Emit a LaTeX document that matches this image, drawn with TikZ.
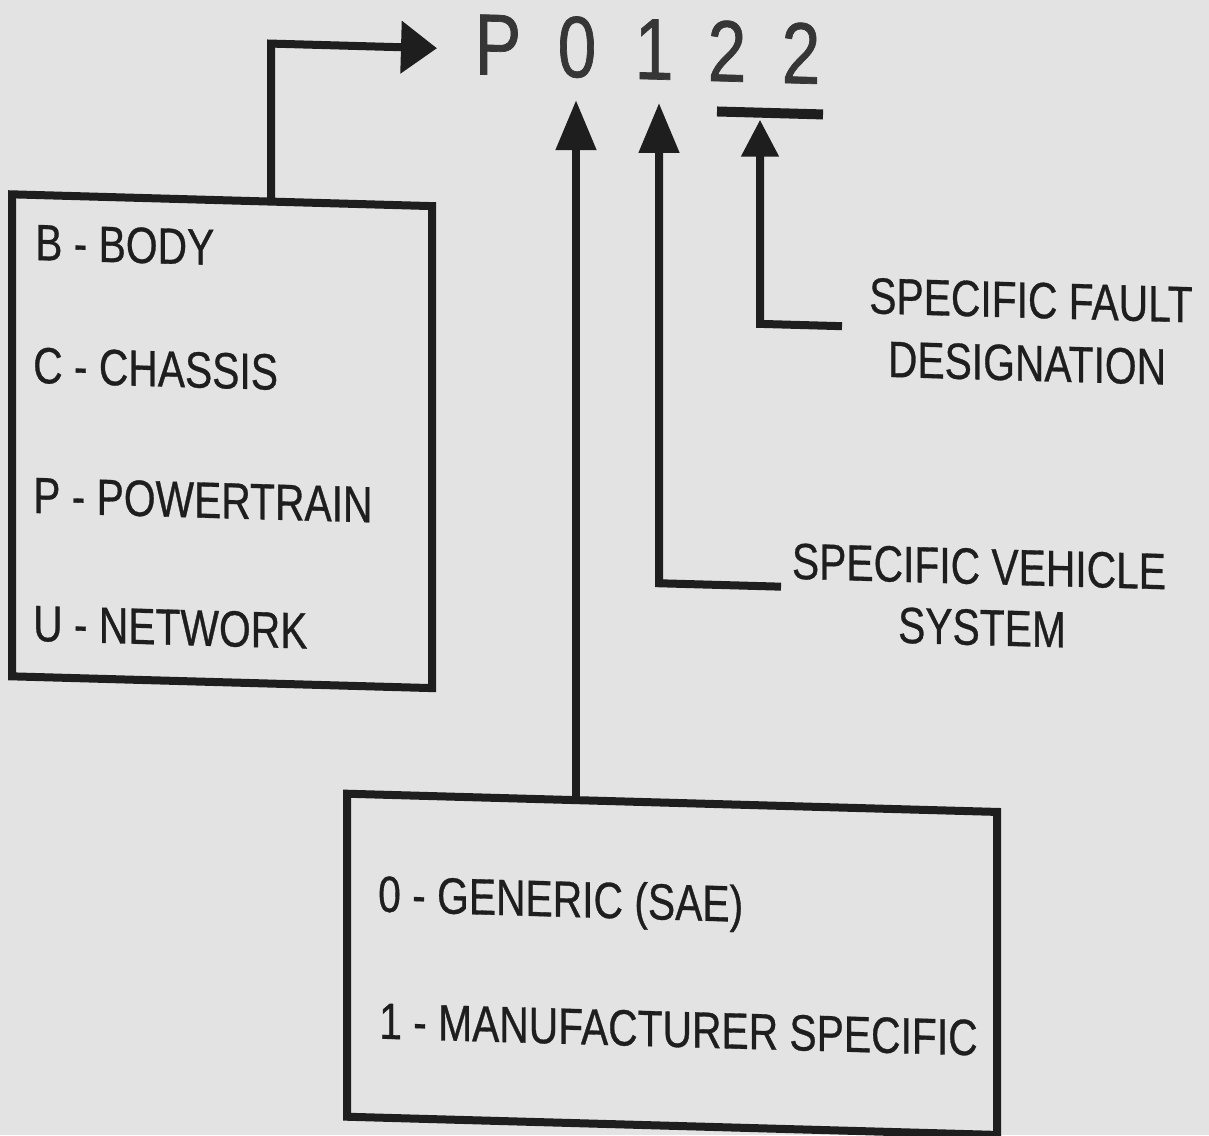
\documentclass[tikz,border=0pt]{standalone}
\usepackage{fontspec}
\newfontfamily\labfont[FakeStretch=0.8,FakeBold=0.6]{Liberation Sans}
\newfontfamily\codefont[FakeStretch=0.8,FakeBold=0.8]{Liberation Sans}
\usetikzlibrary{arrows.meta}
\definecolor{bg}{HTML}{E3E3E3}
\definecolor{ink}{HTML}{1E1E1E}
\definecolor{codeink}{HTML}{363636}
\begin{document}
\begin{tikzpicture}[x=1pt,y=-1pt]
\fill[bg] (0,0) rectangle (1209,1135);
\useasboundingbox (0,0) rectangle (1209,1135);
\begin{scope}[yslant=-0.028, transform shape,
  box/.style={draw=ink, line width=8pt, rectangle, inner sep=0pt, outer sep=0pt},
  lbl/.style={inner sep=0pt, text=ink, font=\labfont\fontsize{51}{60}\selectfont},
  code/.style={inner sep=0pt, anchor=base, text=codeink, font=\codefont\fontsize{87}{100}\selectfont},
  wire/.style={draw=ink, line width=8pt},
  uptip/.style={-{Triangle[length=50pt,width=39pt]}},
  ]
  % boxes
  \node[box, anchor=north west, minimum width=420pt, minimum height=482pt] (sys) at (12,194) {};
  \node[box, anchor=north west, minimum width=650pt, minimum height=323pt] (grp) at (347,784) {};

  % left box text
  \node[lbl, anchor=base west] (tb) at (35,259) {B - BODY};
  \node[lbl, anchor=base west] (tc) at (33,382) {C - CHASSIS};
  \node[lbl, anchor=base west] (tp) at (33,512) {P - POWERTRAIN};
  \node[lbl, anchor=base west] (tu) at (33,640) {U - NETWORK};

  % bottom box text
  \node[lbl, anchor=base west] (g0) at (378,901) {0 - GENERIC (SAE)};
  \node[lbl, anchor=base west] (g1) at (379,1028) {1 - MANUFACTURER SPECIFIC};

  % right labels
  \node[lbl, anchor=base] (f1) at (1031,289) {SPECIFIC FAULT};
  \node[lbl, anchor=base] (f2) at (1027,352) {DESIGNATION};
  \node[lbl, anchor=base] (v1) at (979,556.6) {SPECIFIC VEHICLE};
  \node[lbl, anchor=base] (v2) at (982,617.6) {SYSTEM};

  % code
  \node[code] (cP) at (498,61) {P};
  \node[code] (c0) at (577,61) {0};
  \node[code] (c1) at (654,61) {1};
  \node[code] (c2) at (727,61) {2};
  \node[code] (c3) at (801,61) {2};

  % coordinates
  \coordinate (sysUp) at (271,36);
  \coordinate (tipP) at (437,36);
  \coordinate (tip0) at (576,84);
  \coordinate (tip1) at (659,84.5);
  \coordinate (vCorner) at (659,564.8);
  \coordinate (vStart) at (781,564.8);
  \coordinate (tip2) at (760,98.4);
  \coordinate (fCorner) at (760,302.6);
  \coordinate (fStart) at (842,302.6);
  \coordinate (u1) at (717,91.4);
  \coordinate (u2) at (823,91.4);

  % connectors
  \draw[wire, -{Triangle[length=36pt,width=51pt]}] (sys.north -| sysUp) -- (sysUp) -- (tipP);
  \draw[wire, uptip] (grp.north -| tip0) -- (tip0);
  \draw[wire, uptip] (vStart) -- (vCorner) -- (tip1);
  \draw[wire, -{Triangle[length=37pt,width=36pt]}] (fStart) -- (fCorner) -- (tip2);
  \draw[wire, line width=10pt] (u1) -- (u2);
\end{scope}
\end{tikzpicture}
\end{document}
